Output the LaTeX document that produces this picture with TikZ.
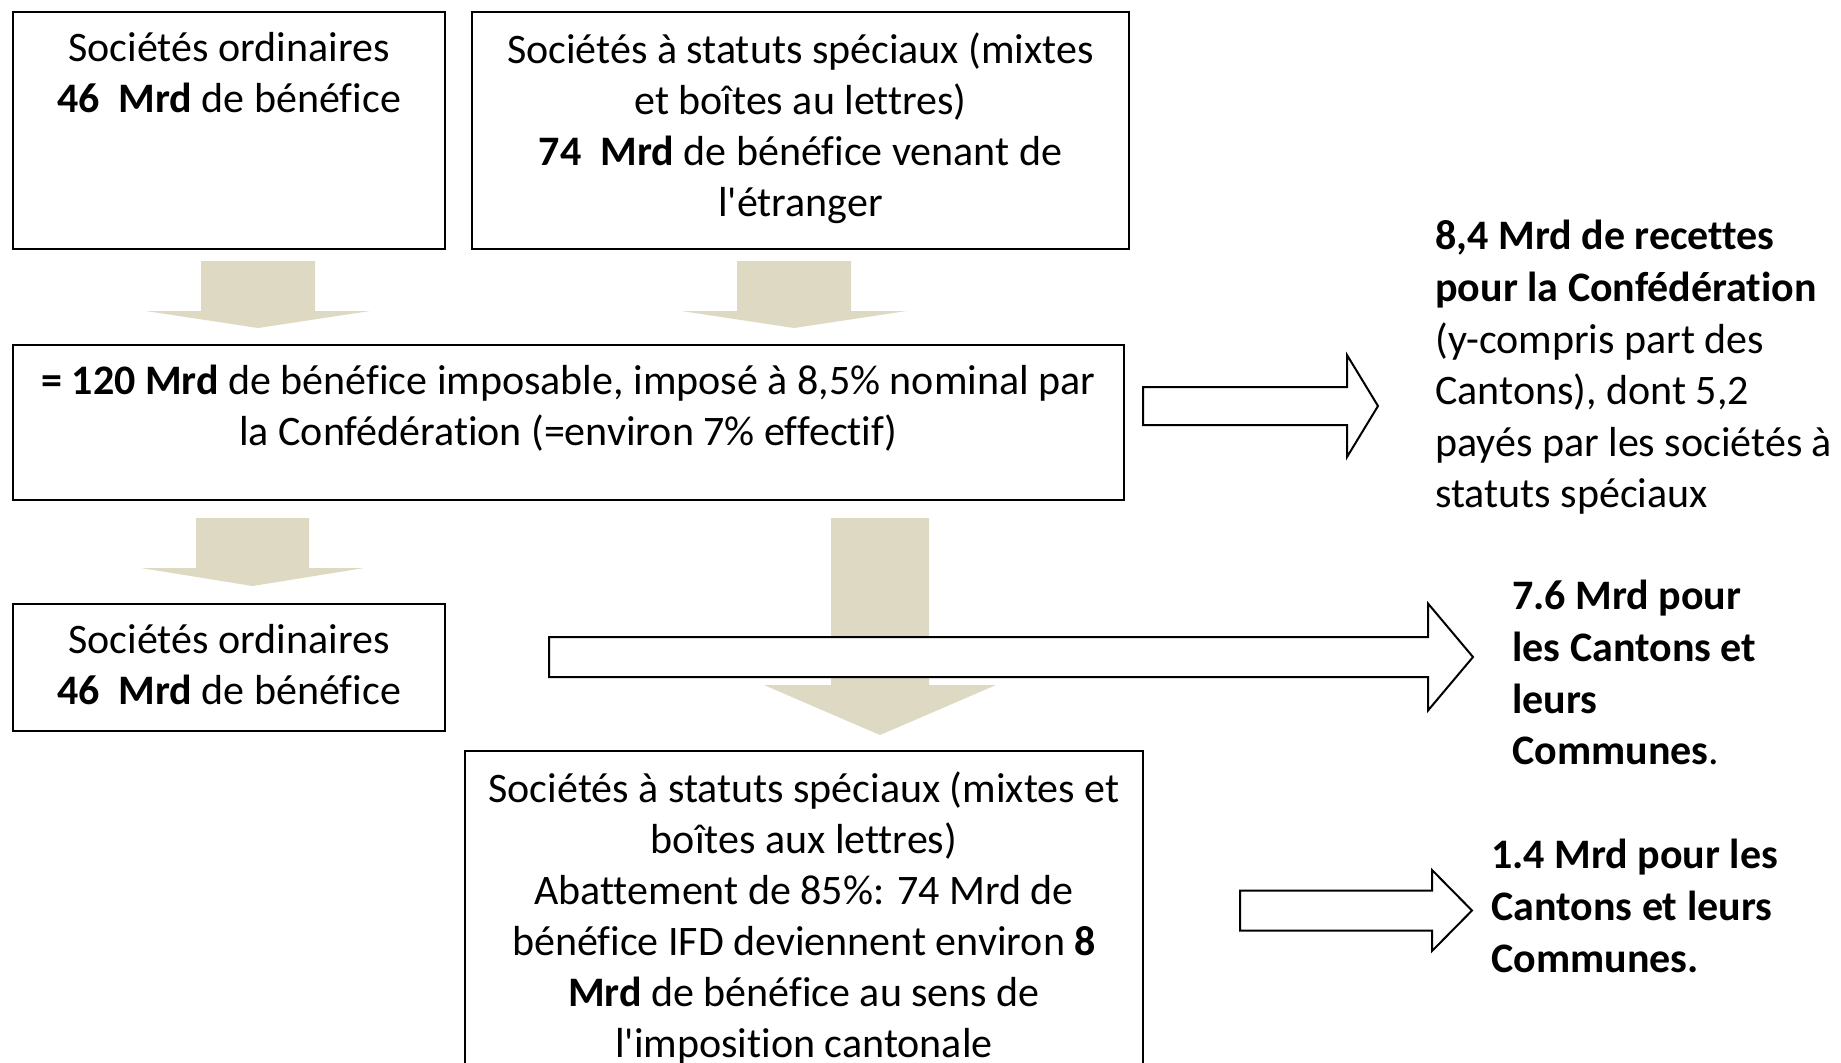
\documentclass[tikz,border=0pt]{standalone}
\usepackage{fontspec}
\setmainfont{Carlito}[Ligatures={TeXOff,CommonOff}]
\usetikzlibrary{positioning}
\definecolor{arrowtan}{HTML}{DDD9C3}

\newcommand{\blkdown}[6]{\fill[arrowtan] ({#1-#2},#4) -- ({#1+#2},#4) -- ({#1+#2},#5) -- ({#1+#3},#5)
  -- (#1,#6) -- ({#1-#3},#5) -- ({#1-#2},#5) -- cycle;}
\newcommand{\blkright}[6]{\filldraw[fill=white, line width=1pt] (#1,{#4-#5}) -- (#2,{#4-#5}) -- (#2,{#4-#6})
  -- (#3,#4) -- (#2,{#4+#6}) -- (#2,{#4+#5}) -- (#1,{#4+#5}) -- cycle;}

\begin{document}
\begin{tikzpicture}[x=0.5pt, y=-0.5pt,
    box/.style={draw, line width=1pt, anchor=north west, inner sep=0pt},
    boxtext/.style={align=center, inner sep=0pt, font=\fontsize{21}{25.5}\selectfont},
    sidetext/.style={align=left, anchor=north west, inner sep=0pt, font=\fontsize{21}{25.8}\selectfont}]
  \useasboundingbox (0,0) rectangle (1841,1062);

  \node[box, minimum width=216pt, minimum height=118.5pt] (ordA) at (12,11) {};
  \node[box, minimum width=328.5pt, minimum height=118.5pt] (specA) at (471,11) {};
  \node[box, minimum width=555.5pt, minimum height=77.5pt] (total) at (12,344) {};
  \node[box, minimum width=216pt, minimum height=63.5pt] (ordB) at (12,603) {};
  \node[box, minimum width=339pt, minimum height=165pt] (specB) at (464,750) {};

  \node[boxtext, below=10.5pt of ordA.north] (ordAtxt) {Sociétés ordinaires\\ \textbf{46\ \ Mrd} de bénéfice};
  \node[boxtext, below=10.5pt of specA.north] (specAtxt) {Sociétés à statuts spéciaux (mixtes\\ et boîtes au lettres)\\ \textbf{74\ \ Mrd} de bénéfice venant de\\ l'étranger};
  \node[boxtext, below=10.5pt of total.north] (totaltxt) {\textbf{= 120 Mrd} de bénéfice imposable, imposé à 8,5\% nominal par\\ la Confédération (=environ 7\% effectif)};
  \node[boxtext, below=10.5pt of ordB.north] (ordBtxt) {Sociétés ordinaires\\ \textbf{46\ \ Mrd} de bénéfice};
  \node[boxtext, below=10.5pt of specB.north] (specBtxt) {Sociétés à statuts spéciaux (mixtes et\\ boîtes aux lettres)\\ Abattement de 85\%: 74 Mrd de\\ bénéfice IFD deviennent environ \textbf{8}\\ \textbf{Mrd} de bénéfice au sens de\\ l'imposition cantonale};

  \node[sidetext] (conf) at (1435,220) {\textbf{8,4 Mrd de recettes}\\ \textbf{pour la Confédération}\\ (y-compris part des\\ Cantons), dont 5,2\\ payés par les sociétés à\\ statuts spéciaux};
  \node[sidetext] (cant) at (1512,580) {\textbf{7.6 Mrd pour}\\ \textbf{les Cantons et}\\ \textbf{leurs}\\ \textbf{Communes}.};
  \node[sidetext] (cantB) at (1491,839) {\textbf{1.4 Mrd pour les}\\ \textbf{Cantons et leurs}\\ \textbf{Communes.}};

  \blkdown{258}{57}{112}{261}{311}{328}
  \blkdown{794}{57}{112.5}{261}{311}{328}
  \blkdown{252.5}{56.5}{111.5}{518}{568}{586}
  \blkdown{880}{49}{116}{518}{685}{735}

  \blkright{1143}{1347}{1378}{406}{19}{51}
  \blkright{549}{1428}{1473}{657}{20}{53.5}
  \blkright{1240}{1432}{1472}{910.5}{20}{40.5}
\end{tikzpicture}
\end{document}
